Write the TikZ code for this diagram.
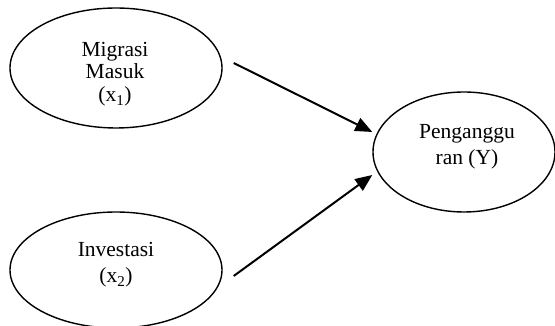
\documentclass[tikz,border=0pt]{standalone}
\usepackage{fontspec}
\setmainfont{Liberation Serif}
\usetikzlibrary{arrows.meta,shapes.geometric,calc}
\begin{document}
\begin{tikzpicture}[x=1pt,y=1pt,
  var/.style={draw,line width=1.4pt,ellipse,inner sep=0pt},
  txt/.style={anchor=base,inner sep=0pt,font=\fontsize{21.5}{24}\selectfont},
  link/.style={line width=2pt,-{Triangle[length=17pt,width=14pt]}}]
\useasboundingbox (0,0) rectangle (555,326);
\node[var,minimum width=212,minimum height=120] (m) at (116,258) {};
\node[var,minimum width=212,minimum height=116] (i) at (116,56) {};
\node[var,minimum width=182,minimum height=120] (y) at (464,174) {};
\node[txt] (m1) at (115,269.3) {Migrasi};
\node[txt] (m2) at (115,247) {Masuk};
\node[txt] (m3) at (115,224) {(x\textsubscript{1})};
\node[txt] (i1) at (116,69) {Investasi};
\node[txt] (i2) at (116,43) {(x\textsubscript{2})};
\node[txt] (y1) at (467,187) {Penganggu};
\node[txt] (y2) at (467,161) {ran (Y)};
\coordinate (s1) at ($(m.east)+(11,5)$);
\coordinate (t1) at ($(y.west)+(0,20)$);
\coordinate (s2) at ($(i.east)+(11,-6)$);
\coordinate (t2) at ($(y.west)+(0,-23)$);
\draw[link] (s1) -- (t1);
\draw[link] (s2) -- (t2);
\end{tikzpicture}
\end{document}
